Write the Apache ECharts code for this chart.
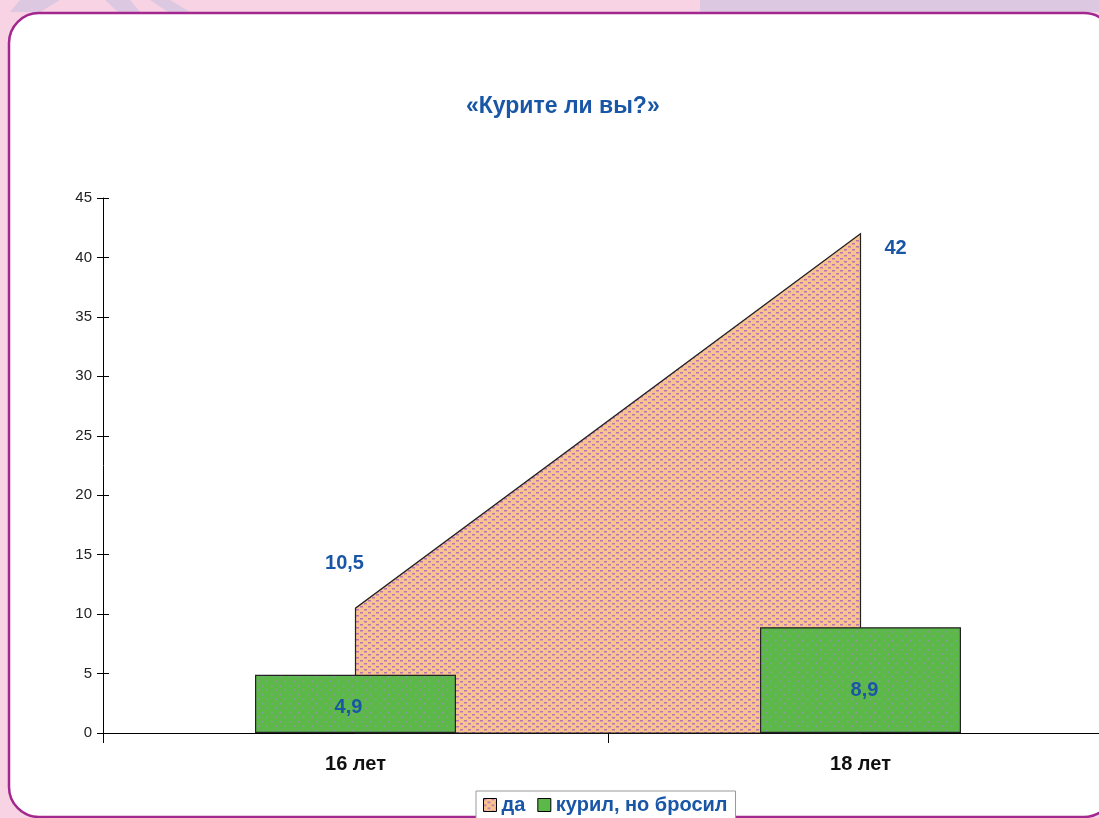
<!DOCTYPE html>
<html><head><meta charset="utf-8">
<style>html,body{margin:0;padding:0;background:#f7d3e4}#c{width:1099px;height:818px}</style>
<script src="https://cdn.jsdelivr.net/npm/echarts@6/dist/echarts.min.js"></script>
</head><body><div id="c"></div>
<script>
const categories = ['16 лет', '18 лет'];
const yesValues = [10.5, 42];
const quitValues = [4.9, 8.9];
const seriesNames = ['да', 'курил, но бросил'];
const titleText = '«Курите ли вы?»';

function makePattern(bg, fg, kind) {
  const c = document.createElement('canvas');
  if (kind === 'dash') {
    c.width = 8; c.height = 6;
    const g = c.getContext('2d');
    g.fillStyle = bg; g.fillRect(0, 0, 8, 6);
    g.fillStyle = fg;
    g.fillRect(0, 0, 3, 1.5);
    g.fillRect(4, 3, 3, 1.5);
  } else {
    c.width = 9; c.height = 9;
    const g = c.getContext('2d');
    g.fillStyle = bg; g.fillRect(0, 0, 9, 9);
    g.fillStyle = fg;
    g.fillRect(1, 1, 1.5, 1.5);
    g.fillRect(5.5, 5.5, 1.5, 1.5);
  }
  return c;
}
const peach = makePattern('#f7c490', '#b873b6', 'dash');
const green = makePattern('#5db84a', '#8f94a8', 'dot');
const fmt = v => String(v).replace('.', ',');
const blue = '#1a56a6';
const FF = 'Liberation Sans, Arial';

const chart = echarts.init(document.getElementById('c'), null, {renderer: 'canvas'});
chart.setOption({
  backgroundColor: '#f7d3e4',
  animation: false,
  graphic: [
    {type: 'polygon', z: -10, shape: {points: [[700,0],[1099,0],[1099,12],[700,12]]}, style: {fill: '#dcc8e0'}},
    {type: 'polygon', z: -10, shape: {points: [[20,0],[60,0],[40,12],[10,12]]}, style: {fill: '#dcc8e0'}},
    {type: 'polygon', z: -10, shape: {points: [[105,0],[130,0],[140,12],[118,12]]}, style: {fill: '#dcc8e0'}},
    {type: 'polygon', z: -10, shape: {points: [[150,0],[170,0],[190,12],[168,12]]}, style: {fill: '#dcc8e0'}},
    {type: 'rect', z: -5, shape: {x: 9, y: 13, width: 1105, height: 804, r: 30},
      style: {fill: '#ffffff', stroke: '#a2278e', lineWidth: 2.5}}
  ],
  title: {
    text: titleText, left: 461, top: 90,
    textStyle: {color: blue, fontSize: 23, fontWeight: 'bold', fontFamily: FF}
  },
  legend: {
    left: 476, top: 791,
    data: [
      {name: seriesNames[0], icon: 'rect', itemStyle: {color: {image: peach, repeat: 'repeat'}, borderColor: '#000', borderWidth: 1}},
      {name: seriesNames[1], icon: 'rect', itemStyle: {color: '#5db84a', borderColor: '#000', borderWidth: 1}}
    ],
    itemWidth: 13, itemHeight: 13, itemGap: 12,
    padding: [4, 8, 8, 7],
    borderColor: '#999', borderWidth: 1, backgroundColor: '#fff',
    textStyle: {color: blue, fontSize: 20, fontWeight: 'bold', fontFamily: FF, padding: [0, 0, 0, 0]}
  },
  grid: {left: 103, width: 1010, top: 198, height: 535, containLabel: false, outerBoundsMode: 'none'},
  xAxis: {
    type: 'category', data: categories, boundaryGap: true,
    axisLine: {lineStyle: {color: '#000', width: 1}},
    axisTick: {show: true, length: 10, lineStyle: {color: '#000'}},
    axisLabel: {margin: 21, color: '#111', fontSize: 20, fontWeight: 'bold', fontFamily: FF},
    splitLine: {show: false}
  },
  yAxis: [
    {
      type: 'value', min: 0, max: 45, interval: 5,
      axisLine: {show: true, lineStyle: {color: '#000'}},
      axisTick: {show: true, length: 6, lineStyle: {color: '#000'}},
      axisLabel: {margin: 11, color: '#222', fontSize: 15, fontFamily: FF},
      splitLine: {show: false}
    },
    {
      type: 'value', min: 0, max: 45, interval: 5, position: 'left',
      axisLine: {show: false},
      axisTick: {show: true, inside: true, length: 6, lineStyle: {color: '#000'}},
      axisLabel: {show: false}, splitLine: {show: false}
    }
  ],
  series: [
    {
      name: seriesNames[0], type: 'custom', z: 1,
      data: yesValues.map((v, i) => [i, v]),
      itemStyle: {color: {image: peach, repeat: 'repeat'}},
      renderItem: function (params, api) {
        if (params.dataIndex !== 0) return null;
        const pts = [api.coord([0, 0])];
        for (let i = 0; i < yesValues.length; i++) pts.push(api.coord([i, yesValues[i]]));
        pts.push(api.coord([yesValues.length - 1, 0]));
        return {
          type: 'polygon', shape: {points: pts},
          style: {fill: {image: peach, repeat: 'repeat'}, stroke: '#222', lineWidth: 1.2}
        };
      }
    },
    {
      name: seriesNames[0], type: 'scatter', z: 3, symbolSize: 0, silent: true,
      itemStyle: {opacity: 1},
      data: yesValues.map((v, i) => ({
        value: [i, v],
        label: {offset: i === 0 ? [-11, -45] : [35, 15]}
      })),
      label: {show: true, position: 'inside', formatter: p => fmt(p.value[1]), opacity: 1,
        color: blue, fontSize: 20, fontWeight: 'bold', fontFamily: FF}
    },
    {
      name: seriesNames[1], type: 'bar', z: 2, barWidth: 201,
      data: quitValues.map((v, i) => ({
        value: v,
        label: {offset: i === 0 ? [-7, 4] : [4, 10]}
      })),
      itemStyle: {color: {image: green, repeat: 'repeat'}, borderColor: '#222', borderWidth: 1.2},
      label: {show: true, position: 'inside', formatter: p => fmt(p.value),
        color: blue, fontSize: 20, fontWeight: 'bold', fontFamily: FF}
    }
  ]
});
</script></body></html>
